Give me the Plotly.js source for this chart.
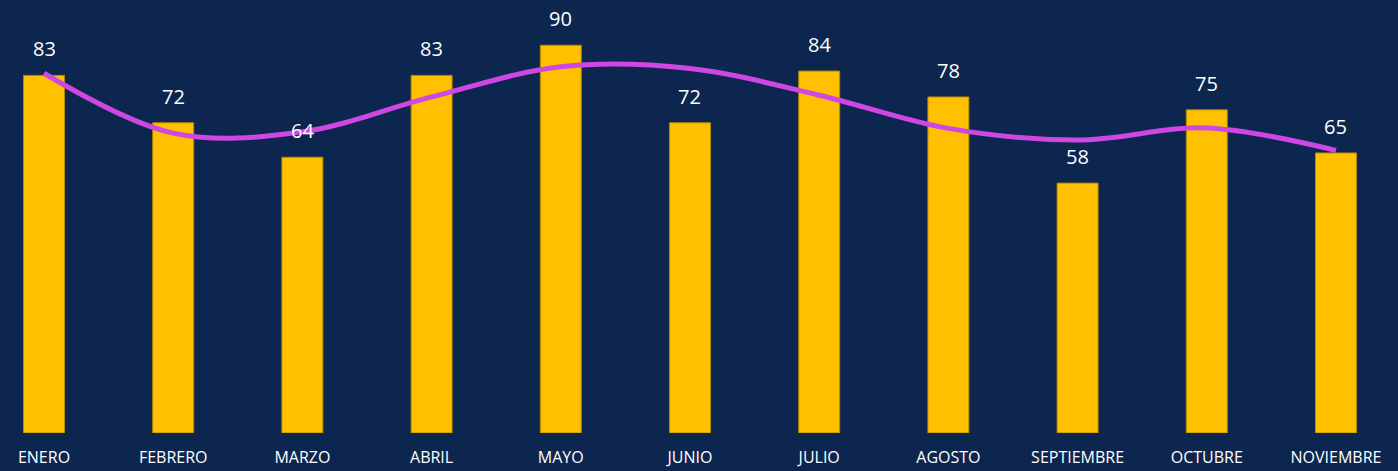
<!DOCTYPE html>
<html>
<head>
<meta charset="utf-8">
<script src="https://cdn.plot.ly/plotly-3.0.1.min.js"></script>
<style>html,body{margin:0;padding:0;background:#0C2650;}#chart{width:1398px;height:471px;}</style>
</head>
<body>
<div id="chart"></div>
<script>
const months = ["ENERO","FEBRERO","MARZO","ABRIL","MAYO","JUNIO","JULIO","AGOSTO","SEPTIEMBRE","OCTUBRE","NOVIEMBRE"];
const values = [83, 72, 64, 83, 90, 72, 84, 78, 58, 75, 65];
const trend = [83.5, 69.6, 69.9, 78.0, 85.0, 84.6, 78.4, 70.7, 68.0, 70.8, 65.6];

const bars = {
  type: "bar",
  x: months,
  y: values,
  width: 0.317,
  marker: {color: "#FFC000", line: {color: "#B58A00", width: 1}},
  hoverinfo: "x+y"
};
const line = {
  type: "scatter",
  mode: "lines",
  x: months,
  y: trend,
  line: {color: "#CF47E3", width: 5, shape: "spline", smoothing: 1.0},
  hoverinfo: "skip"
};
const annotations = months.map((m, i) => ({
  x: m, y: values[i], xref: "x", yref: "y",
  text: String(values[i]), showarrow: false,
  yanchor: "bottom", yshift: 11,
  font: {family: "Open Sans, Noto Sans, sans-serif", size: 20, color: "#FFFFFF"}
}));

const layout = {
  width: 1398, height: 471,
  paper_bgcolor: "#0C2650",
  plot_bgcolor: "#0C2650",
  margin: {l: 0, r: 0, t: 0, b: 38},
  showlegend: false,
  xaxis: {
    type: "category",
    range: [-0.3406, 10.48],
    showgrid: false, zeroline: false, showline: false, ticks: "",
    ticklabelstandoff: 13,
    tickfont: {family: "Open Sans, sans-serif", size: 16, color: "#FFFFFF"}
  },
  yaxis: {
    range: [0, 100.5],
    showgrid: false, zeroline: false, showline: false, showticklabels: false, ticks: ""
  },
  annotations: annotations
};

Plotly.newPlot("chart", [bars, line], layout, {displayModeBar: false, staticPlot: true});
</script>
</body>
</html>
